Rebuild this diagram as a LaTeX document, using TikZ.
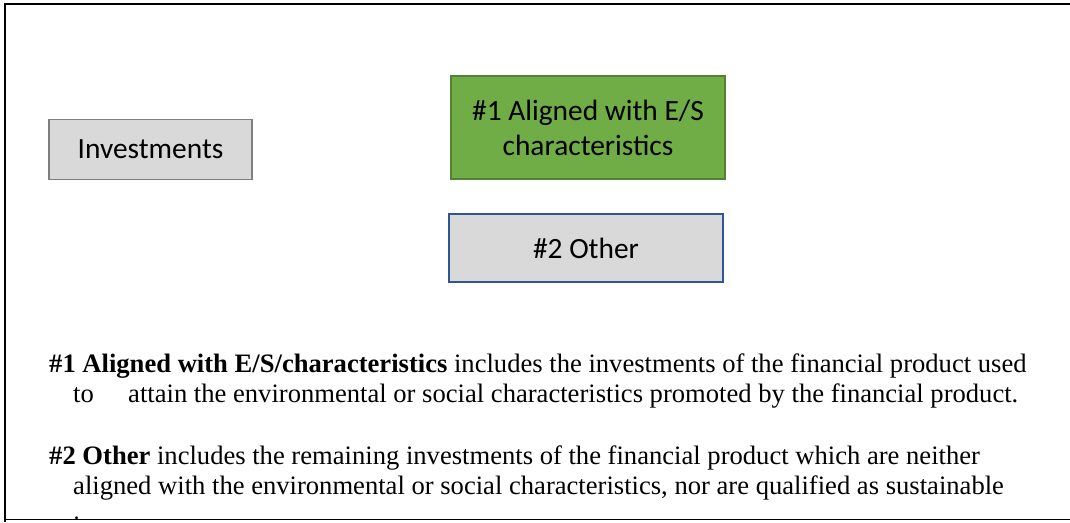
\documentclass[tikz,border=0pt]{standalone}
\usepackage{fontspec}
\setmainfont{Liberation Serif}
\newfontfamily\boxfont{Carlito}
\definecolor{boxgray}{HTML}{D9D9D9}
\definecolor{grayedge}{HTML}{7F7F7F}
\definecolor{greenfill}{HTML}{70AD47}
\definecolor{greenedge}{HTML}{548235}
\definecolor{blueedge}{HTML}{2F5597}
\tikzset{
  cat/.style={draw, line width=1.6pt, inner sep=0pt, align=center,
    font=\boxfont\fontsize{29.4}{35}\selectfont, text=black},
  txt/.style={anchor=base west, inner sep=0pt, font=\fontsize{26.6}{30}\selectfont},
  frame/.style={line width=1.8pt, draw=black}
}
\begin{document}
\begin{tikzpicture}[x=1pt,y=-1pt]
\useasboundingbox (0,0) rectangle (1070,522);
\fill[white] (0,0) rectangle (1070,522);
\coordinate (fbl) at (5,522);
\coordinate (ftl) at (5,4);
\coordinate (ftr) at (1072,4);
\coordinate (fbl2) at (5,519.5);
\coordinate (fbr) at (1072,519.5);
\draw[frame] (fbl) -- (ftl) -- (ftr);
\draw[frame] (fbl2) -- (fbr);

\node[cat, fill=boxgray, draw=grayedge, minimum width=203pt, minimum height=60pt] (inv) at (150.5,149.5) {Investments};
\node[cat, fill=greenfill, draw=greenedge, minimum width=274pt, minimum height=103pt] (al) at (588,127.5) {\#1 Aligned with E/S\\characteristics};
\node[cat, fill=boxgray, draw=blueedge, minimum width=274pt, minimum height=68pt] (oth) at (586,248) {\#2 Other};

\begin{scope}
\clip (6,5) rectangle (1070,518.5);
\node[txt] (p1a) at (49,372) {\textbf{\#1 Aligned with E/S/characteristics} includes the investments of the financial product used};
\node[txt] (p1b) at (73,402) {to};
\node[txt] (p1c) at (128,402) {attain the environmental or social characteristics promoted by the financial product.};
\node[txt] (p2a) at (49,464) {\textbf{\#2 Other} includes the remaining investments of the financial product which are neither};
\node[txt] (p2b) at (73,494) {aligned with the environmental or social characteristics, nor are qualified as sustainable};
\node[txt] (p2c) at (73,534) {investments.};
\end{scope}
\end{tikzpicture}
\end{document}
